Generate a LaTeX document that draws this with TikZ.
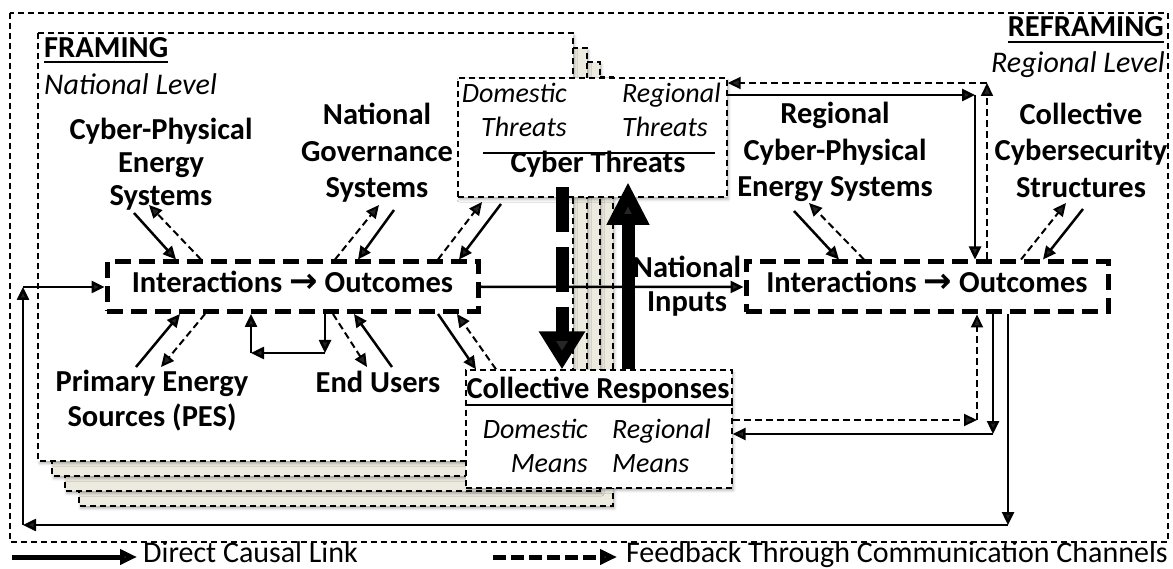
\documentclass[tikz,border=0pt]{standalone}
\usepackage{fontspec}
\setmainfont{Carlito}
\newfontfamily\arrowglyphfont{DejaVu Sans}
\usetikzlibrary{arrows.meta,calc,shadows.blur}
\definecolor{sheetfill}{RGB}{237,235,224}
\tikzset{
  frameline/.style={draw=black, line width=1.4pt, dash pattern=on 6pt off 4pt},
  softshadow/.style={blur shadow={shadow xshift=1.5pt, shadow yshift=-2.5pt, shadow blur radius=2.5pt, shadow opacity=30}},
  sheet/.style={frameline, fill=sheetfill, softshadow},
  frontsheet/.style={frameline, fill=white, softshadow},
  thinbox/.style={frameline, fill=white, softshadow, inner sep=0pt},
  bigbox/.style={draw=black, line width=5pt, dash pattern=on 16pt off 8pt, fill=white, inner sep=0pt,
    font=\fontsize{30.5}{36.5}\selectfont\bfseries, text height=20pt, text depth=8pt},
  causal/.style={line width=2.5pt, -{Triangle[length=13pt,width=12pt]}},
  feedback/.style={line width=2pt, dash pattern=on 7pt off 4pt, -{Triangle[length=13pt,width=12pt]}},
  lbl/.style={font=\fontsize{30.5}{36.5}\selectfont\bfseries, align=center, inner sep=0pt},
  lvl/.style={font=\fontsize{30}{36}\selectfont\itshape, inner sep=0pt},
  itl/.style={font=\fontsize{28}{34}\selectfont\itshape, inner sep=0pt},
  legtxt/.style={font=\fontsize{30}{36}\selectfont, inner sep=0pt},
  bigshaft/.style={line width=13pt}
}
\newcommand{\ioarrow}{{\arrowglyphfont\fontsize{34}{36}\selectfont\bfseries →}}
\begin{document}
\begin{tikzpicture}[x=1pt,y=-1pt]
\useasboundingbox (0,0) rectangle (1173,569);

% outer frame around both levels
\draw[frameline] (10,13) rectangle (1168,542);

% stacked national-level sheets (back to front)
\draw[sheet] (79,77) rectangle (613,506);
\draw[sheet] (65,62) rectangle (600,491);
\draw[sheet] (52,48) rectangle (587,476);
\draw[frontsheet] (38,33) rectangle (573,461);

% headings
\node[lbl, anchor=base west] (framing) at (44,58) {FRAMING};
\draw[line width=2.5pt] ($(framing.base west)+(0,4)$) -- ($(framing.base east)+(0,4)$);
\node[lvl, anchor=base west] (natlevel) at (44,95) {National Level};
\node[lbl, anchor=base east] (reframing) at (1164,37) {REFRAMING};
\draw[line width=2.5pt] ($(reframing.base west)+(0,5)$) -- ($(reframing.base east)+(0,5)$);
\node[lvl, anchor=base east] (reglevel) at (1165,73) {Regional Level};

% national-level actors
\node[lbl, font=\fontsize{30.5}{33}\selectfont\bfseries] (cpes) at (161,164) {Cyber-Physical\\Energy\\Systems};
\node[lbl] (ngs) at (377,153) {National\\Governance\\Systems};
\node[lbl, font=\fontsize{30.5}{35}\selectfont\bfseries] (pes) at (152,401) {Primary Energy\\Sources (PES)};
\node[lbl, anchor=base] (eu) at (378,392) {End Users};
\node[lbl, font=\fontsize{30.5}{33.5}\selectfont\bfseries] (ni) at (687,286) {National\\Inputs};

% regional-level actors
\node[lbl] (rcpes) at (835,152) {Regional\\Cyber-Physical\\Energy Systems};
\node[lbl] (ccs) at (1081,150) {Collective\\Cybersecurity\\Structures};

% interaction boxes
\node[bigbox, minimum width=371pt, minimum height=49.5pt] (LB) at (292.5,286.75)
  {Interactions \ioarrow{} Outcomes};
\node[bigbox, minimum width=362pt, minimum height=50pt] (RB) at (927,287)
  {Interactions \ioarrow{} Outcomes};

% cyber threats box
\node[thinbox, minimum width=269pt, minimum height=119pt] (CT) at (592.5,137.5) {};
\node[itl, anchor=base east] (ctdom) at (567,103) {Domestic};
\node[itl, anchor=base east] (ctdomt) at (567,137) {Threats};
\node[itl, anchor=base west] (ctreg) at (622,103) {Regional};
\node[itl, anchor=base west] (ctregt) at (622,137) {Threats};
\draw[line width=2.5pt] (483,153) -- (715,153);
\node[lbl, anchor=base] (cttitle) at (598,173) {Cyber Threats};

% collective responses box
\node[thinbox, minimum width=266pt, minimum height=118pt] (CR) at (599,429) {};
\node[lbl, anchor=base] (crtitle) at (598,398) {Collective Responses};
\draw[line width=2pt] (CR.west |- 0,405) -- (CR.east |- 0,405);
\node[itl, anchor=base east] (crdom) at (588,438) {Domestic};
\node[itl, anchor=base east] (crdomm) at (588,472) {Means};
\node[itl, anchor=base west] (crreg) at (612,438) {Regional};
\node[itl, anchor=base west] (crregm) at (612,472) {Means};

% free ends of the short links
\coordinate (cpesS) at (134,213);
\coordinate (cpesF) at (149,205);
\coordinate (ngsF) at (379,205);
\coordinate (ngsS) at (394,210);
\coordinate (ctF) at (482,202);
\coordinate (ctS) at (501,204);
\coordinate (pesS) at (136,367);
\coordinate (pesF) at (161,367);
\coordinate (euF) at (367,367);
\coordinate (euS) at (392,367);
\coordinate (loopR) at (325,353);
\coordinate (loopL) at (251,353);
\coordinate (rcS) at (794,211);
\coordinate (rcF) at (809,203);
\coordinate (ccF) at (1066,203);
\coordinate (ccS) at (1083,209);

% national-level links
\draw[causal] (cpesS) -- (176,0 |- LB.north);
\draw[feedback] (201,0 |- LB.north) -- (cpesF);
\draw[feedback] (335,0 |- LB.north) -- (ngsF);
\draw[causal] (ngsS) -- (358,0 |- LB.north);
\draw[feedback] (438,0 |- LB.north) -- (ctF);
\draw[causal] (ctS) -- (459,0 |- LB.north);
\draw[causal] (pesS) -- (180,0 |- LB.south);
\draw[feedback] (205,0 |- LB.south) -- (pesF);
\draw[causal] (325,0 |- LB.south) -- (loopR);
\draw[causal] (loopR) -- (loopL);
\draw[causal] (loopL) -- (251,0 |- LB.south);
\draw[feedback] (333,0 |- LB.south) -- (euF);
\draw[causal] (euS) -- (354,0 |- LB.south);
\draw[causal] (438,0 |- LB.south) -- (476,0 |- CR.north);
\draw[feedback] (496,0 |- CR.north) -- (457,0 |- LB.south);

% regional-level links
\draw[causal] (rcS) -- (839,0 |- RB.north);
\draw[feedback] (864,0 |- RB.north) -- (rcF);
\draw[feedback] (1021,0 |- RB.north) -- (ccF);
\draw[causal] (ccS) -- (1043,0 |- RB.north);

% national inputs
\draw[causal] (LB.east) -- (RB.west);

% threats to regional outcomes and back
\coordinate (ctCorner) at (975,95);
\coordinate (ctFCorner) at (987,83);
\draw[causal] (CT.east |- ctCorner) -- (ctCorner);
\draw[causal] (ctCorner) -- (975,0 |- RB.north);
\draw[feedback] (987,0 |- RB.north) -- (ctFCorner);
\draw[feedback] (ctFCorner) -- (CT.east |- ctFCorner);

% responses to regional outcomes and back
\coordinate (crFCorner) at (977,420);
\coordinate (crCorner) at (993,434);
\draw[feedback] (CR.east |- crFCorner) -- (crFCorner);
\draw[feedback] (crFCorner) -- (977,0 |- RB.south);
\draw[causal] (993,0 |- RB.south) -- (crCorner);
\draw[causal] (crCorner) -- (CR.east |- crCorner);

% long loop from regional outcomes back to national interactions
\coordinate (lpA) at (1008,525);
\coordinate (lpB) at (23,525);
\coordinate (lpC) at (23,287);
\draw[causal] (1008,0 |- RB.south) -- (lpA);
\draw[causal] (lpA) -- (lpB);
\draw[causal] (lpB) -- (lpC);
\draw[causal] (lpC) -- (LB.west |- lpC);

% heavy arrows between threats and responses
\coordinate (thDown) at (562,187);
\coordinate (thUp) at (628,182);
\draw[bigshaft, dash pattern=on 45pt off 15pt, -{Triangle[length=38pt,width=44pt]}]
  (thDown) -- (562,0 |- CR.north);
\draw[bigshaft, -{Triangle[length=43pt,width=40pt]}] (628,0 |- CR.north) -- (thUp);

% legend
\coordinate (lgA) at (12,557);
\coordinate (lgB) at (137,557);
\coordinate (lgC) at (493,557);
\coordinate (lgD) at (617,557);
\draw[line width=5pt, -{Triangle[length=17pt,width=15pt]}] (lgA) -- (lgB);
\node[legtxt, anchor=base west] (lgdirect) at (143,562) {Direct Causal Link};
\draw[line width=5pt, dash pattern=on 13pt off 5pt, -{Triangle[length=17pt,width=15pt]}] (lgC) -- (lgD);
\node[legtxt, anchor=base east] (lgfeed) at (1168,562) {Feedback Through Communication Channels};
\end{tikzpicture}
\end{document}
